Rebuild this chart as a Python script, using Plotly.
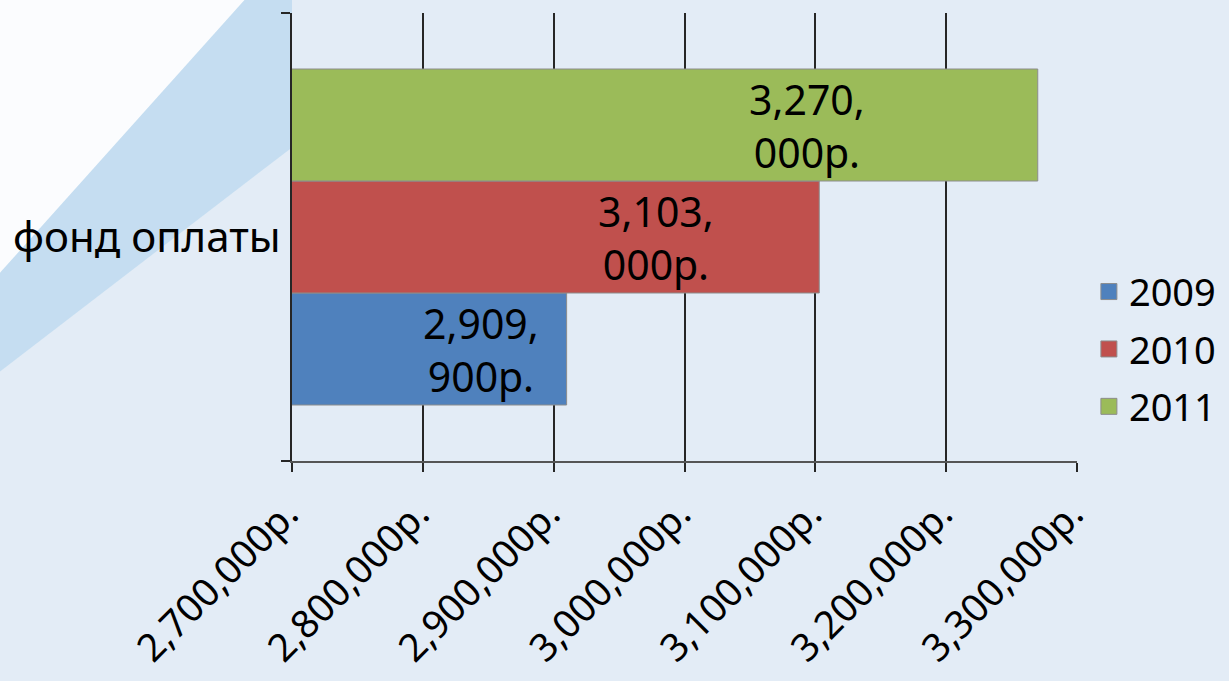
import plotly.graph_objects as go

categories = ["фонд оплаты"]
years = ["2009", "2010", "2011"]
values = [2909900, 3103000, 3270000]
colors = ["#4F81BD", "#C0504D", "#9BBB59"]
x_min, x_max, x_step = 2700000, 3300000, 100000

FONT = "Noto Sans"
fig = go.Figure()

for yr, v, c in zip(years, values, colors):
    fig.add_trace(go.Bar(
        y=categories, x=[v], name=yr, orientation="h",
        marker=dict(color=c, line=dict(color="#8c8c8c", width=1)),
        showlegend=False, hoverinfo="x+name",
    ))
    fig.add_trace(go.Scatter(
        x=[None], y=[None], mode="markers", name=yr, legendgroup=yr,
        marker=dict(symbol="square", size=17, color=c, line=dict(color="#8c8c8c", width=1)),
        showlegend=True,
    ))

# data labels (two-line, as in the original)
n = len(values)
for i, v in enumerate(values):
    s = f"{v:,.0f}"
    head = s.split(",", 1)[0]
    first, second = s[: len(head) + 4], s[len(head) + 5:]
    txt = f"{first},<br>{second}р."
    lx = x_min + 0.69 * (v - x_min)
    fig.add_annotation(
        x=lx, y=0, yref="y", xref="x", text=txt, showarrow=False,
        yshift=(i - (n - 1) / 2) * 112,
        font=dict(family=FONT, size=41, color="#000000"),
        align="center",
    )

# background approximation of the photo
fig.add_shape(type="path", xref="paper", yref="paper", layer="below",
              path="M -0.372,1.03 L -0.06,1.03 L -0.372,0.42 Z",
              fillcolor="rgba(255,255,255,0.85)", line=dict(width=0))
fig.add_shape(type="path", xref="paper", yref="paper", layer="below",
              path="M -0.06,1.03 L 0.0,1.03 L 0.0,0.7 L -0.372,0.2 L -0.372,0.42 Z",
              fillcolor="rgba(160,205,236,0.45)", line=dict(width=0))

fig.update_layout(
    width=1229, height=681,
    margin=dict(l=292, r=152, t=13, b=220, autoexpand=False),
    paper_bgcolor="#e3ecf6",
    plot_bgcolor="rgba(0,0,0,0)",
    barmode="group",
    bargap=0.25,
    font=dict(family=FONT, size=38, color="#000000"),
    legend=dict(
        xref="container", yref="container",
        x=0.886, xanchor="left", y=0.487, yanchor="middle",
        font=dict(family=FONT, size=38, color="#000000"),
        bgcolor="rgba(0,0,0,0)", itemwidth=30, tracegroupgap=5,
        traceorder="grouped",
    ),
)

fig.update_xaxes(
    range=[x_min, x_max], dtick=x_step, tick0=x_min,
    tickformat=",", ticksuffix="р.", tickangle=-45,
    showgrid=True, gridcolor="#262626", gridwidth=2,
    showline=True, linecolor="#555555", linewidth=2,
    ticks="outside", ticklen=9, tickcolor="#262626", tickwidth=2,
    zeroline=False, automargin=False,
    ticklabelshift=-5, ticklabelstandoff=4,
    tickfont=dict(family=FONT, size=38.5, color="#000000"),
    fixedrange=True,
)
fig.update_yaxes(
    showline=True, linecolor="#262626", linewidth=2,
    ticks="outside", tickson="boundaries", ticklen=9, tickcolor="#262626", tickwidth=2,
    showgrid=False, ticklabelstandoff=1, automargin=False,
    tickfont=dict(family=FONT, size=42, color="#000000"),
    fixedrange=True,
)

post = (
    "document.documentElement.style.margin='0';"
    "document.documentElement.style.overflow='hidden';"
    "document.body.style.margin='0';"
    "document.body.style.overflow='hidden';"
    "var d=document.getElementById('{plot_id}');"
    "d.style.position='absolute';d.style.left='0px';d.style.top='0px';"
)
fig.write_html("out.html", post_script=post, config={"displayModeBar": False})
